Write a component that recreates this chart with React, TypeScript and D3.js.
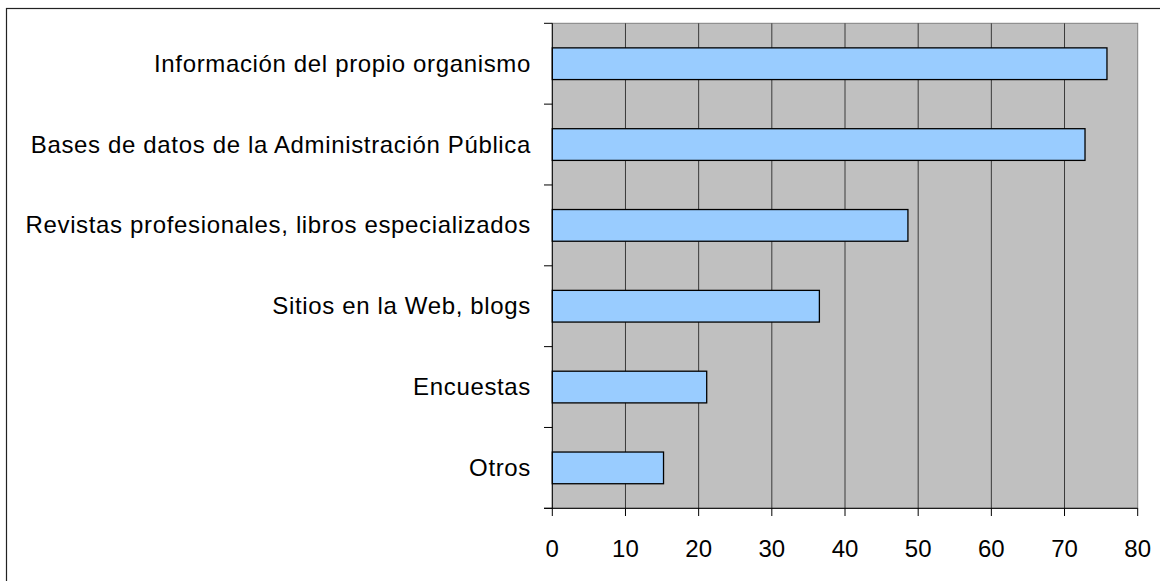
import React from "react";
import * as d3 from "d3";

const categories = [
  "Información del propio organismo",
  "Bases de datos de la Administración Pública",
  "Revistas profesionales, libros especializados",
  "Sitios en la Web, blogs",
  "Encuestas",
  "Otros",
];
const values = [75.8, 72.8, 48.6, 36.5, 21.1, 15.2];
const xTicks = [0, 10, 20, 30, 40, 50, 60, 70, 80];

const W = 1160;
const H = 581;
const left = 552.3;
const right = 1137.7;
const top = 23.3;
const bottom = 508.3;

export default function App() {
  const x = d3.scaleLinear().domain([0, 80]).range([left, right]);
  const y = d3.scaleBand<string>().domain(categories).range([top, bottom]).paddingInner(0).paddingOuter(0);
  const bw = y.bandwidth();
  const barH = bw / 2.55;
  const font = "'Liberation Sans', Arial, sans-serif";
  const boundaries = d3.range(categories.length + 1).map((i) => top + i * bw);

  return (
    <svg
      width={W}
      height={H}
      style={{ position: "absolute", left: 0, top: 0, background: "#fff" }}
      fontFamily={font}
    >
      <rect x={6.5} y={8.5} width={W + 20} height={H + 20} fill="#fff" stroke="#222" strokeWidth={1.2} />
      <rect x={left} y={top} width={right - left} height={bottom - top} fill="#c0c0c0" stroke="#808080" strokeWidth={1} />
      {xTicks.slice(1, -1).map((t) => (
        <line key={"g" + t} x1={x(t)} x2={x(t)} y1={top} y2={bottom} stroke="#3a3a3a" strokeWidth={1} />
      ))}
      {categories.map((c, i) => {
        const cy = (y(c) as number) + bw / 2;
        return (
          <g key={c}>
            <rect
              x={x(0)}
              y={cy - barH / 2}
              width={x(values[i]) - x(0)}
              height={barH}
              fill="#99ccff"
              stroke="#000"
              strokeWidth={1.3}
            />
            <text x={531} y={cy + 8} textAnchor="end" fontSize={24} letterSpacing={0.65} fill="#000">
              {c}
            </text>
          </g>
        );
      })}
      <line x1={left} x2={left} y1={top} y2={bottom} stroke="#000" strokeWidth={1} />
      <line x1={544} x2={right} y1={bottom} y2={bottom} stroke="#000" strokeWidth={1} />
      {boundaries.map((b, i) => (
        <line key={"yt" + i} x1={544} x2={left} y1={b} y2={b} stroke="#000" strokeWidth={1} />
      ))}
      {xTicks.map((t) => (
        <g key={"xt" + t}>
          <line x1={x(t)} x2={x(t)} y1={bottom} y2={516} stroke="#000" strokeWidth={1} />
          <text x={x(t)} y={556.5} textAnchor="middle" fontSize={24} fill="#000">
            {t}
          </text>
        </g>
      ))}
    </svg>
  );
}
